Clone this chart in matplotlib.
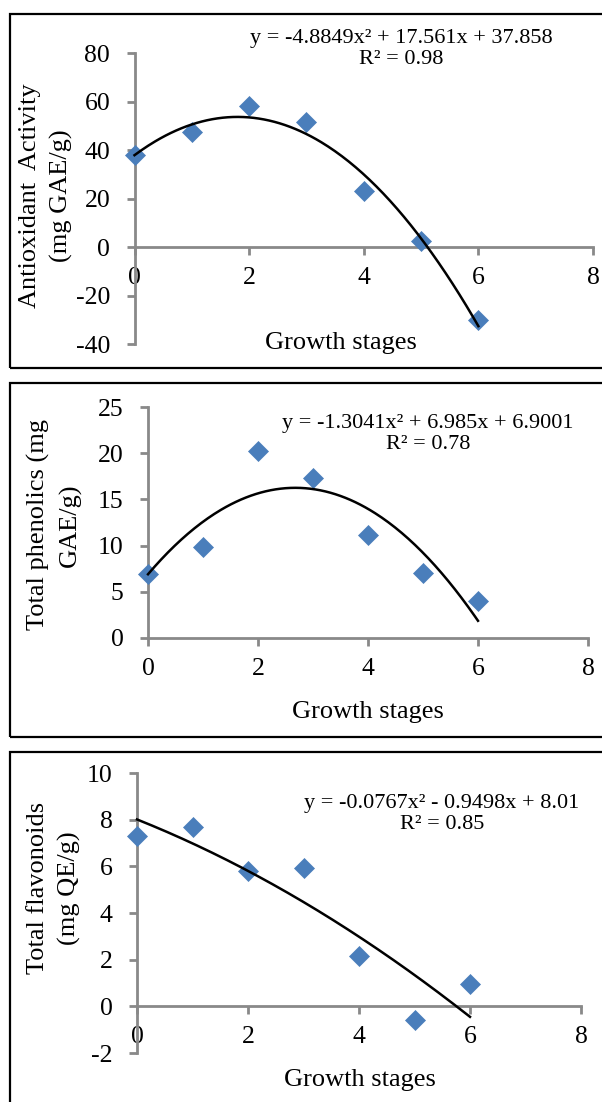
import numpy as np
import matplotlib.pyplot as plt
from matplotlib.patches import Rectangle

plt.rcParams['font.family'] = ['Liberation Serif', 'DejaVu Serif']
plt.rcParams['axes.unicode_minus'] = False

W, H = 602, 1102

stages = [0, 1, 2, 3, 4, 5, 6]
antioxidant = [38, 47.5, 58, 51.5, 23, 2.5, -30]
phenolics = [6.9, 9.8, 20.2, 17.3, 11.2, 7.0, 4.0]
flavonoids = [7.3, 7.7, 5.8, 5.95, 2.15, -0.6, 0.95]

# polynomial trendline coefficients as printed on the chart
antioxidant_fit = [-4.8849, 17.561, 37.858]
phenolics_fit = [-1.3041, 6.985, 6.9001]
flavonoids_fit = [-0.0767, -0.9498, 8.01]

antioxidant_eq = 'y = -4.8849x² + 17.561x + 37.858\nR² = 0.98'
phenolics_eq = 'y = -1.3041x² + 6.985x + 6.9001\nR² = 0.78'
flavonoids_eq = 'y = -0.0767x² - 0.9498x + 8.01\nR² = 0.85'

antioxidant_yticks = [-40, -20, 0, 20, 40, 60, 80]
phenolics_yticks = [0, 5, 10, 15, 20, 25]
flavonoids_yticks = [-2, 0, 2, 4, 6, 8, 10]
xticks = [0, 2, 4, 6, 8]

blue = '#4a7ebb'
grey = '#898989'

fig = plt.figure(figsize=(W / 100, H / 100), dpi=100)


def fx(px):
    return px / W


def fy(py):
    return 1 - py / H


panels = [
    # data, fit, eq, yticks, ylabel, axis px (l, r, t, b), frame (t, b),
    # equation pos, ylabel pos, xlabel pos
    (antioxidant, antioxidant_fit, antioxidant_eq, antioxidant_yticks,
     'Antioxidant  Activity\n(mg GAE/g)', (134.5, 593, 53, 344), (14, 368),
     (401, 49), (46, 196), (341, 343)),
    (phenolics, phenolics_fit, phenolics_eq, phenolics_yticks,
     'Total phenolics (mg\nGAE/g)', (148, 588, 407, 638), (383, 737),
     (428, 434), (54, 525), (368, 712)),
    (flavonoids, flavonoids_fit, flavonoids_eq, flavonoids_yticks,
     'Total flavonoids\n(mg QE/g)', (137, 581, 773, 1053), (752, 1110),
     (442, 814), (54, 888), (360, 1080)),
]

for data, fit, eq, yticks, ylabel, box, frame, eqpos, ylpos, xlpos in panels:
    l, r, t, b = box
    ax = fig.add_axes([fx(l), fy(b), fx(r - l), (b - t) / H])
    ax.set_xlim(0, 8)
    ax.set_ylim(yticks[0], yticks[-1])
    ax.set_xticks(xticks)
    ax.set_yticks(yticks)
    for side in ['top', 'right']:
        ax.spines[side].set_visible(False)
    ax.spines['bottom'].set_position(('data', 0))
    for side in ['left', 'bottom']:
        ax.spines[side].set_color(grey)
        ax.spines[side].set_linewidth(2)
    ax.tick_params(axis='both', colors=grey, length=5.5, width=2,
                   labelcolor='black', labelsize=18.5)
    ax.tick_params(axis='y', pad=12)
    ax.tick_params(axis='x', pad=9)
    ax.patch.set_alpha(0)

    ax.plot(stages, data, linestyle='none', marker='D', markersize=10.5,
            color=blue, markeredgecolor=blue, markeredgewidth=0.5,
            clip_on=False, zorder=3)
    xs = np.linspace(stages[0], stages[-1], 200)
    ax.plot(xs, np.polyval(fit, xs), color='black', linewidth=1.8,
            clip_on=False, zorder=4)

    fig.text(fx(eqpos[0]), fy(eqpos[1]), eq, ha='center', va='center',
             multialignment='center', fontsize=16, linespacing=1.1)
    fig.text(fx(ylpos[0]), fy(ylpos[1]), ylabel, rotation=90, ha='center',
             va='center', multialignment='center', fontsize=19,
             linespacing=1.5)
    fig.text(fx(xlpos[0]), fy(xlpos[1]), 'Growth stages', ha='center',
             va='center', fontsize=19)

    ft, fb = frame
    fig.patches.append(Rectangle((fx(10), fy(fb)), fx(W + 20), (fb - ft) / H,
                                 transform=fig.transFigure, fill=False,
                                 edgecolor='black', linewidth=1.6))

fig.savefig('out.png', dpi=100)
